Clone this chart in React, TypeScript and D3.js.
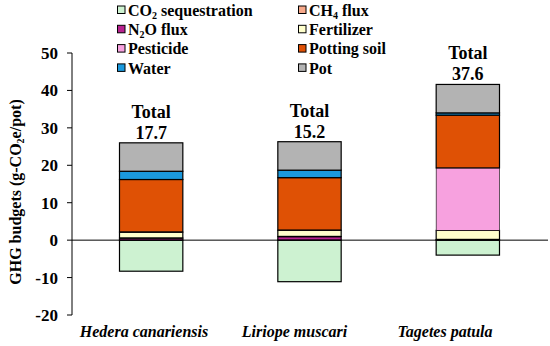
import { useMemo } from 'react'
import * as d3 from 'd3'

const species = ['Hedera canariensis', 'Liriope muscari', 'Tagetes patula']
const totals = ['17.7', '15.2', '37.6']

// stacked from the zero line upward
const positiveKeys = ['N2O flux', 'CH4 flux', 'Fertilizer', 'Pesticide', 'Potting soil', 'Water', 'Pot']
const n2oFlux = [0.5, 0.9, 0.1]
const ch4Flux = [0.1, 0.1, 0.1]
const fertilizer = [1.5, 1.6, 2.4]
const pesticide = [0.1, 0.1, 16.7]
const pottingSoil = [14.0, 14.0, 14.1]
const water = [2.2, 2.0, 0.6]
const pot = [7.6, 7.6, 7.6]
const co2Sequestration = [-8.3, -11.1, -4.0]

const yTicks = [-20, -10, 0, 10, 20, 30, 40, 50]

const legendOrder = ['CO2 sequestration', 'CH4 flux', 'N2O flux', 'Fertilizer', 'Pesticide', 'Potting soil', 'Water', 'Pot']

const colors: Record<string, string> = {
  'CO2 sequestration': '#cdf2d1',
  'CH4 flux': '#f7a98a',
  'N2O flux': '#b8228f',
  Fertilizer: '#ffffcc',
  Pesticide: '#f7a1df',
  'Potting soil': '#df5105',
  Water: '#1b99dd',
  Pot: '#b3b3b3',
}

const width = 550
const height = 346
const margin = { top: 53, right: 3, bottom: 31, left: 72 }
const font = "'Liberation Serif', 'Times New Roman', Times, serif"

function Label({ name }: { name: string }) {
  // draws chemical subscripts as tspans
  const m = name.match(/^(CO|CH|N)(\d)(.*)$/)
  if (!m) return <>{name}</>
  return (
    <>
      {m[1]}
      <tspan fontSize="10" dy="3">{m[2]}</tspan>
      <tspan dy="-3">{m[3]}</tspan>
    </>
  )
}

export default function App() {
  const chart = useMemo(() => {
    const x = d3
      .scaleBand()
      .domain(species)
      .range([margin.left, width - margin.right])
      .paddingInner(0.6)
      .paddingOuter(0.3)

    const y = d3
      .scaleLinear()
      .domain([-20, 50])
      .range([height - margin.bottom, margin.top])

    const labelX = d3.scalePoint().domain(species).range([144, 445])

    const table = species.map((s, i) => ({
      species: s,
      'N2O flux': n2oFlux[i],
      'CH4 flux': ch4Flux[i],
      Fertilizer: fertilizer[i],
      Pesticide: pesticide[i],
      'Potting soil': pottingSoil[i],
      Water: water[i],
      Pot: pot[i],
    }))

    const stack = d3.stack<any>().keys(positiveKeys)(table)
    return { x, y, labelX, stack }
  }, [])

  const { x, y, labelX, stack } = chart
  const bw = x.bandwidth()

  return (
    <div style={{ position: 'absolute', left: 0, top: 0 }}>
      <svg width={width} height={height} style={{ display: 'block', background: '#fff', fontFamily: font }}>
        {/* y axis */}
        <line x1={margin.left} x2={margin.left} y1={y(50)} y2={y(-20)} stroke="#000" strokeWidth={1} />
        {yTicks.map((t) => (
          <g key={t}>
            <line x1={margin.left - 5} x2={margin.left} y1={y(t)} y2={y(t)} stroke="#000" />
            <text x={58} y={y(t)} dy="0.35em" textAnchor="end" fontSize="17" fontWeight="bold">
              {t}
            </text>
          </g>
        ))}
        <text
          transform={`translate(21 ${(y(50) + y(-20)) / 2 + 8}) rotate(-90)`}
          textAnchor="middle"
          fontSize="16"
          fontWeight="bold"
        >
          GHG budgets (g-CO<tspan fontSize="10" dy="3">2</tspan>
          <tspan dy="-3">e/pot)</tspan>
        </text>

        {/* negative part */}
        {species.map((s, i) => (
          <rect
            key={`co2-${s}`}
            x={x(s)}
            y={y(0)}
            width={bw}
            height={y(co2Sequestration[i]) - y(0)}
            fill={colors['CO2 sequestration']}
            stroke="#000"
            strokeWidth={1.2}
          />
        ))}

        {/* positive stack */}
        {stack.map((layer) =>
          layer.map((d, i) => (
            <rect
              key={`${layer.key}-${i}`}
              x={x(species[i])}
              y={y(d[1])}
              width={bw}
              height={Math.max(0, y(d[0]) - y(d[1]))}
              fill={colors[layer.key]}
              stroke="#000"
              strokeWidth={layer.key === 'CH4 flux' || layer.key === 'Pesticide' ? 0.6 : 1.2}
            />
          )),
        )}

        {/* zero line */}
        <line x1={margin.left} x2={width - 2} y1={y(0)} y2={y(0)} stroke="#000" strokeWidth={1} />

        {/* totals */}
        {species.map((s, i) => {
          const top = stack[stack.length - 1][i][1]
          const cx = (x(s) ?? 0) + bw / 2
          return (
            <g key={`tot-${s}`} fontSize="18" fontWeight="bold" textAnchor="middle">
              <text x={cx} y={y(top) - 25}>Total</text>
              <text x={cx} y={y(top) - 4}>{totals[i]}</text>
            </g>
          )
        })}

        {/* category labels */}
        {species.map((s) => (
          <text
            key={`lab-${s}`}
            x={labelX(s)}
            y={337}
            textAnchor="middle"
            fontSize="16"
            fontWeight="bold"
            fontStyle="italic"
          >
            {s}
          </text>
        ))}

        {/* legend */}
        {legendOrder.map((k, i) => {
          const col = i % 2
          const row = Math.floor(i / 2)
          const lx = col === 0 ? 117 : 298
          const ly = 10 + row * 19.3
          return (
            <g key={`leg-${k}`} transform={`translate(${lx} ${ly})`}>
              <rect x={0.5} y={-4} width={7.5} height={7.5} fill={colors[k]} stroke="#000" strokeWidth={1} />
              <text x={11} y={0} dy="0.35em" fontSize="16" fontWeight="bold">
                <Label name={k} />
              </text>
            </g>
          )
        })}
      </svg>
    </div>
  )
}
